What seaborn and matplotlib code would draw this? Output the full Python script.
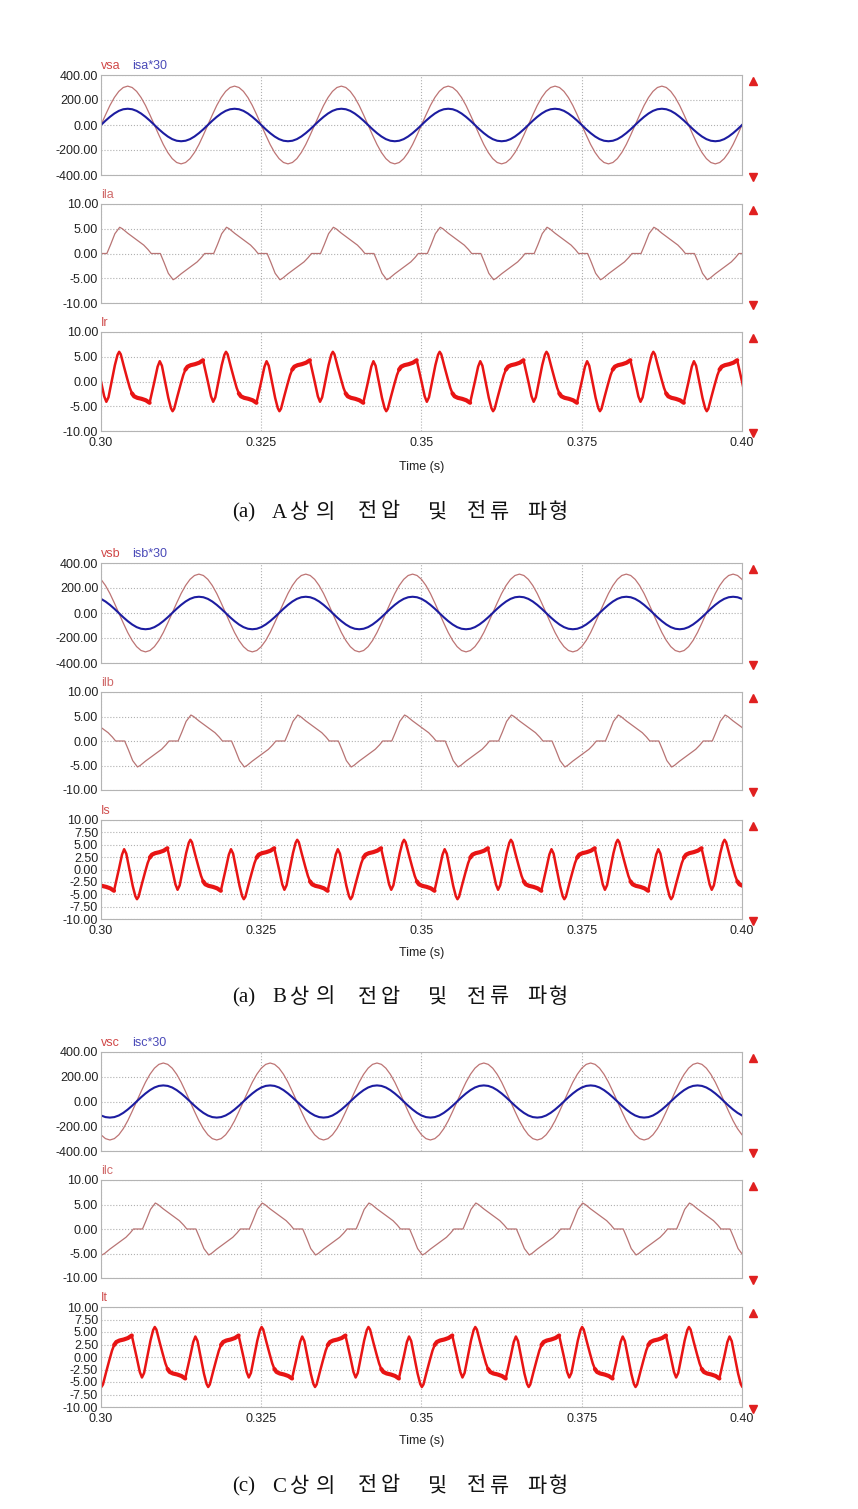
import numpy as np
import matplotlib
matplotlib.use("Agg")
import matplotlib.pyplot as plt
import seaborn as sns

sns.set_theme(style="white")
plt.rcParams['font.family'] = ['Liberation Sans', 'DejaVu Sans']

# ---- data: one recorded 60 Hz cycle of each waveform (phase = fraction of cycle) ----
FREQ = 60.0
T_START, T_END = 0.30, 0.40
X_TICKS = [0.30, 0.325, 0.35, 0.375, 0.40]
X_TICKLABELS = ['0.30', '0.325', '0.35', '0.375', '0.40']

# source voltage and source current (x30), sampled every 15 degrees
VS_PHASE = np.linspace(0, 1, 25)
VS_CYCLE = [0, 80, 156, 220, 269, 300, 311, 300, 269, 220, 156, 80,
            0, -80, -156, -220, -269, -300, -311, -300, -269, -220, -156, -80, 0]
IS_CYCLE = [0, 34, 65, 92, 113, 126, 130, 126, 113, 92, 65, 34,
            0, -34, -65, -92, -113, -126, -130, -126, -113, -92, -65, -34, 0]

# load current (diode rectifier)
IL_PHASE = [0.00, 0.055, 0.09, 0.13, 0.175, 0.20, 0.25, 0.30, 0.35, 0.40, 0.44, 0.47,
            0.555, 0.59, 0.63, 0.675, 0.70, 0.75, 0.80, 0.85, 0.90, 0.94, 0.97, 1.00]
IL_CYCLE = [0.0, 0.0, 1.8, 4.0, 5.3, 5.0, 4.1, 3.3, 2.5, 1.7, 0.8, 0.0,
            0.0, -1.8, -4.0, -5.3, -5.0, -4.1, -3.3, -2.5, -1.7, -0.8, 0.0, 0.0]

# compensation current Ir / Is / It
IC_PHASE = [0.000, 0.030, 0.050, 0.070, 0.100, 0.130, 0.155, 0.170, 0.185, 0.215, 0.245, 0.270,
            0.290, 0.310, 0.340, 0.380, 0.420, 0.455,
            0.500, 0.530, 0.550, 0.570, 0.600, 0.630, 0.655, 0.670, 0.685, 0.715, 0.745, 0.770,
            0.790, 0.810, 0.840, 0.880, 0.920, 0.955, 1.000]
IC_CYCLE = [0.0, -3.0, -4.1, -3.2, 0.0, 3.3, 5.4, 6.0, 5.5, 3.0, 0.6, -1.3,
            -2.4, -3.0, -3.3, -3.5, -3.8, -4.3,
            0.0, 3.0, 4.1, 3.2, 0.0, -3.3, -5.4, -6.0, -5.5, -3.0, -0.6, 1.3,
            2.4, 3.0, 3.3, 3.5, 3.8, 4.3, 0.0]
# switching-ripple bands (thicker trace) on the flat parts of the cycle
RIPPLE_BANDS = [(0.290, 0.455), (0.790, 0.955)]

# phase lead of each phase (fraction of a cycle): a, b (+120 deg), c (+240 deg)
PHASE_SHIFT = [0.0, 1 / 3, 2 / 3]
PHASES = ['a', 'b', 'c']
COMP_NAMES = ['Ir', 'Is', 'It']
CAPTION_TAGS = ['(a)', '(a)', '(c)']
CAPTION_CHARS = ['상', '의', '전', '압', '및', '전', '류', '파', '형']

# ---- layout (pixels of the 858 x 1509 page) ----
W, H = 858, 1509
AX_LEFT, AX_RIGHT = 101, 742
PANEL_PX = [[(75, 175), (204, 303), (332, 431)],
            [(563, 663), (692, 790), (820, 919)],
            [(1052, 1151), (1180, 1278), (1307, 1407)]]
TIME_Y = [467, 953, 1441]
CAPTION_Y = [513, 998, 1487]
CAPTION_X = [232, 272, 290, 316, 358, 381, 428, 467, 490, 527, 549]

C_VS = '#bd7474'
C_IS = '#1c1ca0'
C_IL = '#b87474'
C_IC = '#e81414'
FS = 9


def trace(phase, cycle, shift):
    phase = np.asarray(phase, dtype=float)[:-1]
    cycle = list(cycle)[:-1]
    ts, ys = [], []
    for n in range(-1, 8):
        ts.extend(T_START + (n + phase - shift) / FREQ)
        ys.extend(cycle)
    return np.array(ts), np.array(ys)


def ripple(shift):
    ph = np.asarray(IC_PHASE)
    val = np.asarray(IC_CYCLE)
    ts, ys, us = [], [], []
    u = 0
    for n in range(-1, 8):
        for lo, hi in RIPPLE_BANDS:
            m = (ph >= lo) & (ph <= hi)
            ts.extend(T_START + (n + ph[m] - shift) / FREQ)
            ys.extend(val[m])
            us.extend([u] * int(m.sum()))
            u += 1
    return np.array(ts), np.array(ys), np.array(us)


def make_ax(fig, top, bottom):
    ax = fig.add_axes([AX_LEFT / W, 1 - bottom / H, (AX_RIGHT - AX_LEFT) / W, (bottom - top) / H])
    ax.set_facecolor('white')
    for s in ax.spines.values():
        s.set_color('#b4b4b4')
        s.set_linewidth(0.8)
    ax.grid(True, ls=':', color='#b0b0b0', lw=0.8)
    ax.tick_params(length=0, labelsize=FS, colors='#222222', pad=2)
    ax.set_xlim(T_START, T_END)
    ax.set_xticks(X_TICKS)
    ax.set_xticklabels([])
    # scroll markers at the right of each PSIM panel
    ax.plot([1.017], [0.94], marker='^', ms=6, color='#e02020', transform=ax.transAxes, clip_on=False)
    ax.plot([1.017], [-0.02], marker='v', ms=6, color='#e02020', transform=ax.transAxes, clip_on=False)
    return ax


def finish(ax, ticks):
    ax.set_xlim(T_START, T_END)
    ax.set_ylim(ticks[0], ticks[-1])
    ax.set_yticks(ticks)
    ax.set_yticklabels(['{:.2f}'.format(v + 0.0) for v in ticks])
    ax.set_xlabel('')
    ax.set_ylabel('')


fig = plt.figure(figsize=(W / 100, H / 100), dpi=100)

for g, ph in enumerate(PHASES):
    shift = PHASE_SHIFT[g]
    (t1, b1), (t2, b2), (t3, b3) = PANEL_PX[g]

    # voltage and scaled source current
    ax = make_ax(fig, t1, b1)
    t, v = trace(VS_PHASE, VS_CYCLE, shift)
    sns.lineplot(x=t, y=v, ax=ax, color=C_VS, lw=0.9, estimator=None, sort=False)
    t, i = trace(VS_PHASE, IS_CYCLE, shift)
    sns.lineplot(x=t, y=i, ax=ax, color=C_IS, lw=1.5, estimator=None, sort=False)
    finish(ax, [-400, -200, 0, 200, 400])
    ax.text(0.0, 1.03, 'vs' + ph, transform=ax.transAxes, fontsize=FS, color='#d04848', va='bottom', ha='left')
    ax.text(31 / 641, 1.03, 'is' + ph + '*30', transform=ax.transAxes, fontsize=FS, color='#4a4ab8',
            va='bottom', ha='left')

    # load current
    ax = make_ax(fig, t2, b2)
    t, v = trace(IL_PHASE, IL_CYCLE, shift)
    sns.lineplot(x=t, y=v, ax=ax, color=C_IL, lw=0.9, estimator=None, sort=False)
    finish(ax, [-10, -5, 0, 5, 10])
    ax.text(0.0, 1.03, 'il' + ph, transform=ax.transAxes, fontsize=FS, color='#d06a6a', va='bottom', ha='left')

    # compensation current
    ax = make_ax(fig, t3, b3)
    t, v = trace(IC_PHASE, IC_CYCLE, shift)
    sns.lineplot(x=t, y=v, ax=ax, color=C_IC, lw=1.8, estimator=None, sort=False)
    t, v, u = ripple(shift)
    sns.lineplot(x=t, y=v, units=u, ax=ax, color=C_IC, lw=3.0, estimator=None, sort=False)
    if g == 0:
        finish(ax, [-10, -5, 0, 5, 10])
    else:
        finish(ax, [-10, -7.5, -5, -2.5, 0, 2.5, 5, 7.5, 10])
    ax.set_xticklabels(X_TICKLABELS)
    ax.tick_params(axis='x', pad=4)
    ax.text(0.0, 1.03, COMP_NAMES[g], transform=ax.transAxes, fontsize=FS, color='#d05050',
            va='bottom', ha='left')

    fig.text((AX_LEFT + AX_RIGHT) / 2 / W, 1 - TIME_Y[g] / H, 'Time (s)', fontsize=FS,
             color='#222222', ha='center', va='center')

    # caption, spaced out syllable by syllable as in the paper
    chars = [CAPTION_TAGS[g], 'ABC'[g]] + CAPTION_CHARS
    for x, ch in zip(CAPTION_X, chars):
        fig.text(x / W, 1 - CAPTION_Y[g] / H, ch, fontsize=15, color='#111111',
                 ha='left', va='center', family=['Liberation Serif', 'Noto Sans CJK KR'])

fig.savefig('out.png', dpi=100)
